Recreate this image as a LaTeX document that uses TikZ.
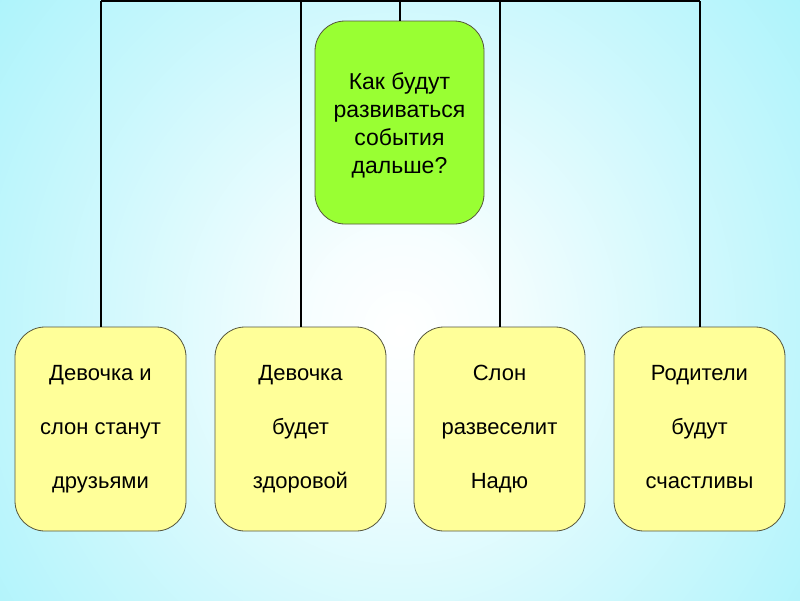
\documentclass[tikz,border=0pt]{standalone}
\usepackage{fontspec}
\setmainfont{Liberation Sans}
\definecolor{bgcyan}{RGB}{150,240,250}
\definecolor{boxgreen}{RGB}{153,255,51}
\definecolor{boxyellow}{RGB}{255,255,153}
\definecolor{boxline}{RGB}{85,85,60}
\pgfdeclareradialshading{bgglow}{\pgfpoint{0bp}{0bp}}{color(0bp)=(white); color(4bp)=(white!92!bgcyan); color(15bp)=(white!50!bgcyan); color(29bp)=(bgcyan); color(50bp)=(bgcyan)}
\newcommand\ystrut{\vphantom{Дру}}
\tikzset{
  greenbox/.style={draw=boxline, line width=0.8pt, fill=boxgreen, rounded corners=30pt,
    minimum width=169pt, minimum height=203pt, inner sep=0pt, align=center,
    font=\fontsize{23}{28}\selectfont},
  yellowbox/.style={draw=boxline, line width=0.8pt, fill=boxyellow, rounded corners=30pt,
    minimum width=171pt, minimum height=204pt, inner sep=0pt, align=center,
    font=\fontsize{22}{54}\selectfont},
  conn/.style={draw=black, line width=2pt}
}
\begin{document}
\begin{tikzpicture}[x=1pt,y=-1pt]
\useasboundingbox (0,0) rectangle (800,600);
\fill[bgcyan] (0,0) rectangle (800,600);
\begin{scope}
\clip (0,0) rectangle (800,600);
\shade[shading=bgglow] (400,330) ellipse [x radius=560, y radius=600];
\end{scope}
\coordinate (tl) at (100.5,1);
\coordinate (tr) at (699.5,1);
\node[greenbox] (q) at (399.5,122.5) {\rule{0pt}{22pt}Как будут\\развиваться\\события\\дальше?\ystrut};
\node[yellowbox] (b1) at (100.5,429) {\ystrut Девочка и\\слон станут\\ друзьями\ystrut};
\node[yellowbox] (b2) at (300.5,429) {\ystrut Девочка\\будет\\здоровой\ystrut};
\node[yellowbox] (b3) at (499.5,429) {\ystrut Слон\\развеселит\\Надю\ystrut};
\node[yellowbox] (b4) at (699.5,429) {\ystrut Родители\\будут\\счастливы\ystrut};
\draw[conn] (tl) -- (tr);
\draw[conn] (q.north) -- (q.north |- tl);
\draw[conn] (b1.north) -- (b1.north |- tl);
\draw[conn] (b2.north) -- (b2.north |- tl);
\draw[conn] (b3.north) -- (b3.north |- tl);
\draw[conn] (b4.north) -- (b4.north |- tl);
\end{tikzpicture}
\end{document}
